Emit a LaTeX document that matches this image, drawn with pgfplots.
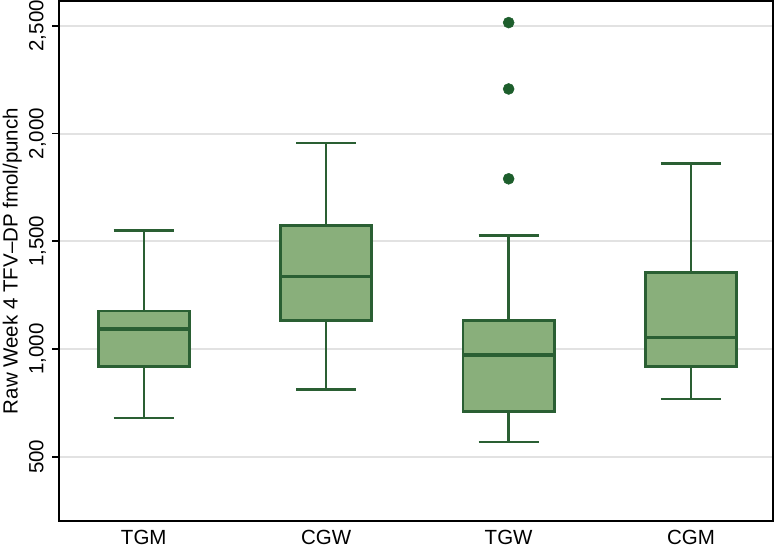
\documentclass[border=0pt]{standalone}
\usepackage{pgfplots}
\pgfplotsset{compat=1.18}
\usepgfplotslibrary{statistics}
\usepackage{fontspec}
\setmainfont{Liberation Sans}
\definecolor{boxfill}{HTML}{89AF7B}
\definecolor{boxdraw}{HTML}{2A5F33}
\definecolor{dotc}{HTML}{1D5E2C}
\definecolor{gridc}{HTML}{E2E2E2}
\begin{document}
\fontsize{20.5bp}{24bp}\selectfont
\begin{tikzpicture}
\begin{axis}[
  scale only axis,
  width=713.7bp, height=519.2bp,
  xmin=0.537, xmax=4.449,
  ymin=203, ymax=2613,
  axis line style={line width=2bp, black},
  xtick={1,2,3,4},
  xticklabels={TGM,CGW,TGW,CGM},
  ytick={500,1000,1500,2000,2500},
  ytick pos=left,
  xtick pos=bottom,
  tick align=outside,
  major tick length=7bp,
  ytick style={draw=black, line width=1.6bp},
  xtick style={draw=none},
  /pgf/number format/assume math mode=true,
  /pgf/number format/1000 sep={,},
  yticklabel style={rotate=90, anchor=base, inner sep=0pt, yshift=9bp},
  xticklabel style={anchor=base, inner sep=0pt, yshift=-16.5bp},
  ymajorgrids,
  grid style={line width=2bp, gridc},
  ylabel={Raw Week 4 TFV--DP fmol/punch},
  every axis y label/.style={at={(rel axis cs:0,0.5)}, xshift=-41.6bp, rotate=90, anchor=base, inner sep=0pt},
  tick label style={font=\fontsize{20.5bp}{24bp}\selectfont},
  label style={font=\fontsize{20.5bp}{24bp}\selectfont},
  boxplot/draw direction=y,
  boxplot/every box/.style={draw=boxdraw, fill=boxfill, line width=2.8bp},
  boxplot/every median/.style={draw=boxdraw, line width=3.2bp},
  boxplot/every whisker/.style={draw=boxdraw, line width=2.5bp},
  clip=false,
]
\coordinate (SW) at (rel axis cs:0,0);
\coordinate (NE) at (rel axis cs:1,1);
\addplot[line width=2.5bp, draw=boxdraw, boxplot prepared={lower whisker=679, lower quartile=918, median=1093, upper quartile=1176, upper whisker=1550, draw position=1, box extend=0.5, whisker extend=0.33}, mark=*, mark size=5.5bp, mark options={fill=dotc, draw=dotc, line width=0.5bp}] coordinates {};
\addplot[line width=2.5bp, draw=boxdraw, boxplot prepared={lower whisker=813, lower quartile=1133, median=1335, upper quartile=1573, upper whisker=1957, draw position=2, box extend=0.5, whisker extend=0.33}, mark=*, mark size=5.5bp, mark options={fill=dotc, draw=dotc, line width=0.5bp}] coordinates {};
\addplot[line width=2.5bp, draw=boxdraw, boxplot prepared={lower whisker=568, lower quartile=710, median=972, upper quartile=1133, upper whisker=1526, draw position=3, box extend=0.5, whisker extend=0.33}, mark=*, mark size=5.5bp, mark options={fill=dotc, draw=dotc, line width=0.5bp}] table[row sep=\\, y index=0] {y\\ 1790\\ 2207\\ 2515\\};
\addplot[line width=2.5bp, draw=boxdraw, boxplot prepared={lower whisker=767, lower quartile=918, median=1054, upper quartile=1355, upper whisker=1862, draw position=4, box extend=0.5, whisker extend=0.33}, mark=*, mark size=5.5bp, mark options={fill=dotc, draw=dotc, line width=0.5bp}] coordinates {};
\end{axis}
\pgfresetboundingbox
\path[use as bounding box] ([xshift=-59.3bp,yshift=-28.3bp]SW) rectangle ([xshift=3bp,yshift=1.5bp]NE);
\end{tikzpicture}
\end{document}
